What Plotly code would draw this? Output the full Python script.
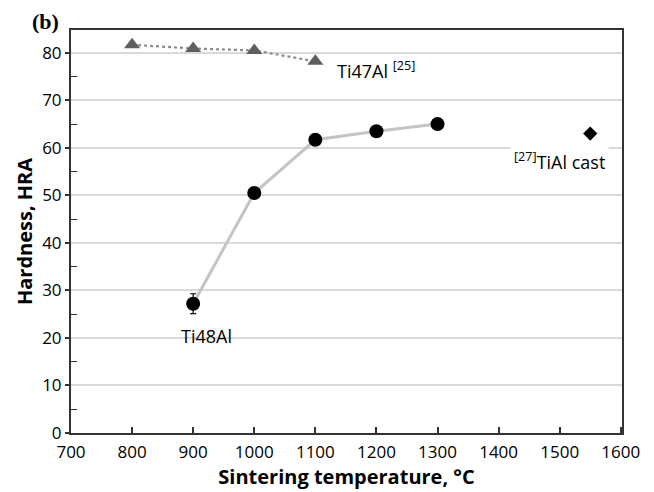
import plotly.graph_objects as go

# Hardness vs sintering temperature
ti48_temp = [900, 1000, 1100, 1200, 1300]
ti48_hra = [27.2, 50.5, 61.7, 63.5, 65.0]
ti48_err = [2.1, 0, 0, 0, 0]

ti47_temp = [800, 900, 1000, 1100]
ti47_hra = [81.7, 80.9, 80.5, 78.2]

cast_temp = [1550]
cast_hra = [63.0]

x_ticks = [700, 800, 900, 1000, 1100, 1200, 1300, 1400, 1500, 1600]
y_ticks = [0, 10, 20, 30, 40, 50, 60, 70, 80]

FONT = "Open Sans"

fig = go.Figure()

fig.add_trace(go.Scatter(
    x=ti47_temp, y=ti47_hra, mode="lines+markers",
    line=dict(color="#8c8c8c", width=2.2, dash="dot"),
    marker=dict(symbol="triangle-up", size=14, color="#5f5f5f"),
    showlegend=False,
))

fig.add_trace(go.Scatter(
    x=ti48_temp, y=ti48_hra, mode="lines+markers",
    line=dict(color="#c4c4c4", width=3),
    marker=dict(symbol="circle", size=14, color="black"),
    error_y=dict(type="data", array=ti48_err, visible=True,
                 color="black", thickness=1.2, width=3),
    showlegend=False,
))

fig.add_trace(go.Scatter(
    x=cast_temp, y=cast_hra, mode="markers",
    marker=dict(symbol="diamond", size=11, color="black"),
    showlegend=False,
))

fig.add_annotation(x=1100, y=76.3, xref="x", yref="y",
                   text="Ti47Al <sup>[25]</sup>", showarrow=False,
                   xanchor="left", xshift=20,
                   font=dict(family=FONT, size=18, color="black"))
fig.add_annotation(x=921, y=27.2, xref="x", yref="y",
                   text="Ti48Al", showarrow=False, yshift=-32,
                   font=dict(family=FONT, size=18, color="black"))
fig.add_annotation(x=1500, y=57.3, xref="x", yref="y",
                   text="<sup>[27]</sup>TiAl cast", showarrow=False,
                   bgcolor="white", borderpad=3,
                   font=dict(family=FONT, size=18, color="black"))
fig.add_annotation(x=-0.046, y=1.022, xref="paper", yref="paper",
                   xanchor="center", yanchor="middle",
                   text="<b>(b)</b>", showarrow=False,
                   font=dict(family="Liberation Serif", size=22, color="black"))

fig.update_layout(
    width=654, height=492,
    margin=dict(l=71, r=32, t=30, b=59),
    paper_bgcolor="white", plot_bgcolor="white",
    font=dict(family=FONT, color="black", size=17),
    xaxis=dict(
        range=[700, 1602], tickvals=x_ticks, ticks="inside", ticklen=6,
        tickwidth=1.5, tickcolor="#333", showgrid=False, zeroline=False,
        showline=True, linecolor="#333", linewidth=2, mirror=True,
        tickfont=dict(family=FONT, size=17), ticklabelstandoff=3,
        automargin=False,
        title=dict(text="<b>Sintering temperature, °C</b>",
                   font=dict(family=FONT, size=20), standoff=8),
    ),
    yaxis=dict(
        range=[0, 84.8], tickvals=y_ticks, ticks="outside", ticklen=4,
        tickwidth=1.5, tickcolor="#333", showgrid=True, gridcolor="#d9d9d9",
        gridwidth=1.5, zeroline=False, showline=True, linecolor="#333",
        linewidth=2, mirror=True, automargin=False,
        minor=dict(tickvals=[5, 15, 25, 35, 45, 55, 65, 75], ticks="inside",
                   ticklen=6, tickwidth=1.2, tickcolor="#333", showgrid=False),
        tickfont=dict(family=FONT, size=17),
        title=dict(text="<b>Hardness, HRA</b>",
                   font=dict(family=FONT, size=20), standoff=4),
    ),
)

fig.write_html("out.html")
